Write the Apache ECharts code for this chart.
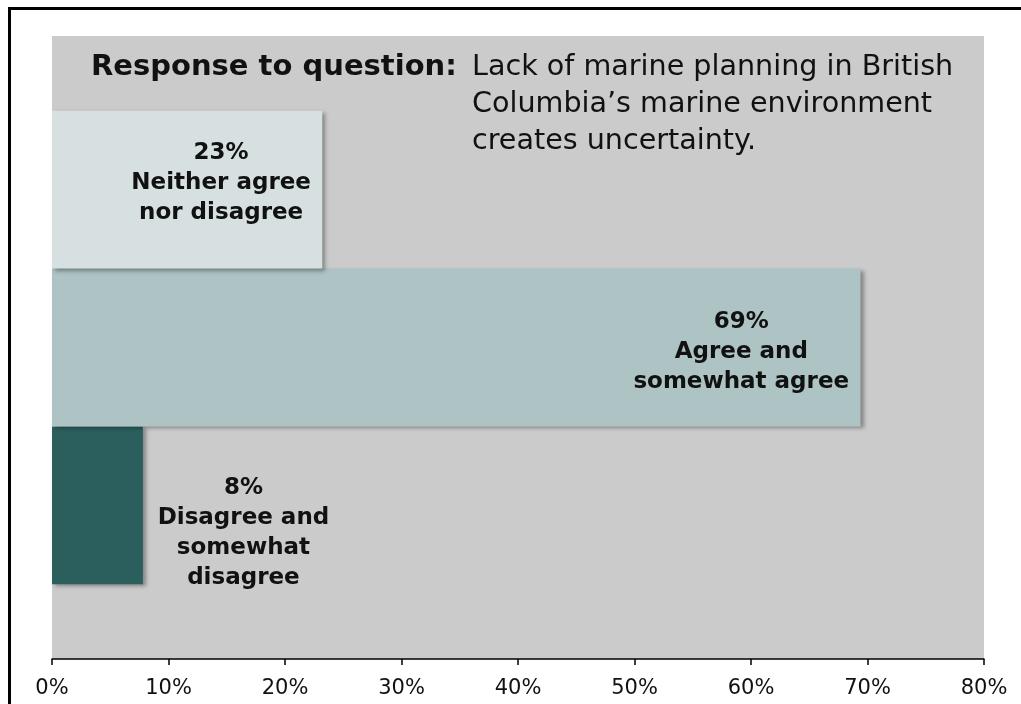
<!DOCTYPE html>
<html>
<head>
<meta charset="utf-8">
<script src="https://cdn.jsdelivr.net/npm/echarts@6/dist/echarts.min.js"></script>
<style>
  html, body { margin: 0; padding: 0; background: #ffffff; }
  #frame { position: absolute; left: 8px; top: 7px; width: 1100px; height: 800px;
           border-left: 3px solid #000; border-top: 3px solid #000; }
  #chart { position: absolute; left: 0; top: 0; width: 1021px; height: 704px; }
</style>
</head>
<body>
<div id="frame"></div>
<div id="chart"></div>
<script>
// Data (top bar first)
const seriesNames = ['Neither agree\nnor disagree', 'Agree and\nsomewhat agree', 'Disagree and\nsomewhat\ndisagree'];
const seriesValues = [23.2, 69.4, 7.8];
const seriesPercents = [23, 69, 8];
const seriesColors = ['#D6E0E0', '#ADC3C4', '#2A5F5E'];
const labelOffsets = [[34, -7], [285, 5], [146, 28]];
const categories = ['Response'];
const xTicks = [0, 10, 20, 30, 40, 50, 60, 70, 80];

const chart = echarts.init(document.getElementById('chart'), null, { renderer: 'canvas' });

const series = seriesValues.map((v, i) => ({
  type: 'bar',
  name: seriesNames[i],
  data: [v],
  z: 2 + (seriesValues.length - i),
  barGap: '0%',
  barCategoryGap: '24%',
  itemStyle: {
    color: seriesColors[i],
    shadowColor: 'rgba(0,0,0,0.35)',
    shadowBlur: 4,
    shadowOffsetX: 3,
    shadowOffsetY: 2
  },
  label: {
    show: true,
    position: 'inside',
    offset: labelOffsets[i],
    formatter: () => seriesPercents[i] + '%\n' + seriesNames[i],
    fontFamily: 'DejaVu Sans',
    fontWeight: 'bold',
    fontSize: 23,
    lineHeight: 30,
    color: '#111',
    align: 'center'
  },
  emphasis: { disabled: true },
  silent: true
}));

chart.setOption({
  animation: false,
  backgroundColor: 'transparent',
  title: [
    {
      text: 'Response to question:',
      left: 86,
      top: 44,
      textStyle: { fontFamily: 'DejaVu Sans', fontWeight: 'bold', fontSize: 29, color: '#111', lineHeight: 37 }
    },
    {
      text: 'Lack of marine planning in British\nColumbia\u2019s marine environment\ncreates uncertainty.',
      left: 467,
      top: 44,
      textStyle: { fontFamily: 'DejaVu Sans', fontWeight: 'normal', fontSize: 28.6, color: '#111', lineHeight: 37 }
    }
  ],
  grid: {
    left: 52, right: 37, top: 36, bottom: 45,
    show: true, backgroundColor: '#CBCBCB', borderWidth: 0
  },
  xAxis: {
    type: 'value',
    min: xTicks[0],
    max: xTicks[xTicks.length - 1],
    interval: 10,
    axisLine: { show: true, lineStyle: { color: '#000', width: 1.5 } },
    axisTick: { show: true, length: 6, lineStyle: { color: '#000', width: 1.5 } },
    splitLine: { show: false },
    axisLabel: {
      formatter: v => v + '%',
      fontFamily: 'DejaVu Sans',
      fontSize: 21,
      color: '#111',
      margin: 19
    }
  },
  yAxis: {
    type: 'category',
    data: categories,
    axisLine: { show: false },
    axisTick: { show: false },
    axisLabel: { show: false }
  },
  series: series
});
</script>
</body>
</html>
